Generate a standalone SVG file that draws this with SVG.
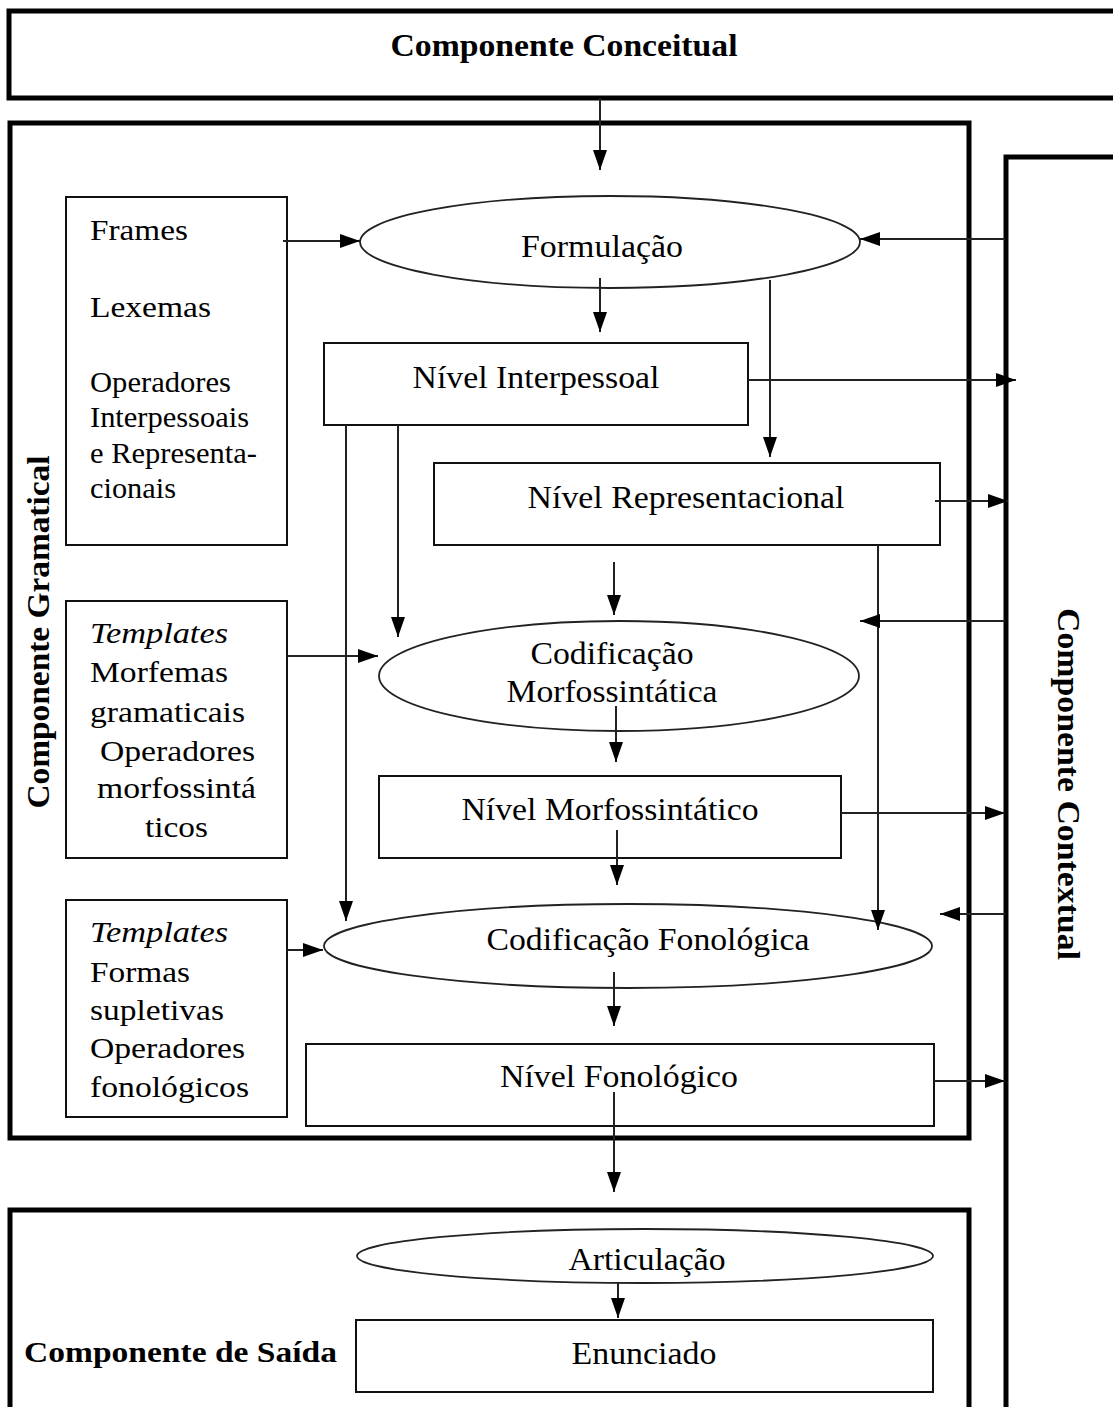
<svg xmlns="http://www.w3.org/2000/svg" width="1113" height="1407" viewBox="0 0 1113 1407" font-family="'Liberation Serif', 'Times New Roman', serif">
<style>
text{font-family:"Liberation Serif","Times New Roman",serif;fill:#000}
.t{font-size:32px;text-anchor:middle}
.l{font-size:30px}
.b{font-weight:bold}
.frame{fill:none;stroke:#000;stroke-width:5}
.box{fill:#fff;stroke:#111;stroke-width:2}
.ell{fill:#fff;stroke:#222;stroke-width:1.8}
.c line{stroke:#222;stroke-width:2}
</style>
<defs>
<marker id="ah" markerUnits="userSpaceOnUse" markerWidth="20" markerHeight="14" refX="20" refY="7" orient="auto">
<path d="M0,0 L20,7 L0,14 z" fill="#000"/>
</marker>
</defs>
<rect width="1113" height="1407" fill="#fff"/>

<g id="conceitual">
<rect class="frame" x="9" y="11" width="1200" height="87"/>
<text class="t b" x="564" y="56" font-size="30" textLength="347" lengthAdjust="spacingAndGlyphs">Componente Conceitual</text>
</g>

<g id="gramatical">
<rect class="frame" x="10" y="123" width="959" height="1015"/>
<text class="t b" transform="translate(49,632) rotate(-90)" font-size="30" textLength="353" lengthAdjust="spacingAndGlyphs">Componente Gramatical</text>
</g>

<g id="contextual">
<rect class="frame" x="1006" y="157" width="200" height="1400"/>
<text class="t b" transform="translate(1058,784) rotate(90)" font-size="30" textLength="352" lengthAdjust="spacingAndGlyphs">Componente Contextual</text>
</g>

<g id="saida">
<rect class="frame" x="10" y="1210" width="959" height="300"/>
<text class="l b" x="24" y="1362" font-size="30" textLength="313" lengthAdjust="spacingAndGlyphs">Componente de Saída</text>
</g>

<g id="lexico">
<rect class="box" x="66" y="197" width="221" height="348"/>
<text class="l" x="90" y="240" textLength="98" lengthAdjust="spacingAndGlyphs">Frames</text>
<text class="l" x="90" y="317" textLength="121" lengthAdjust="spacingAndGlyphs">Lexemas</text>
<text class="l" x="90" y="392" textLength="141" lengthAdjust="spacingAndGlyphs">Operadores</text>
<text class="l" x="90" y="427" textLength="159" lengthAdjust="spacingAndGlyphs">Interpessoais</text>
<text class="l" x="90" y="463" textLength="167" lengthAdjust="spacingAndGlyphs">e Representa-</text>
<text class="l" x="90" y="498" textLength="86" lengthAdjust="spacingAndGlyphs">cionais</text>
</g>

<g id="templates-morf">
<rect class="box" x="66" y="601" width="221" height="257"/>
<text class="l" x="90" y="643" font-style="italic" textLength="138" lengthAdjust="spacingAndGlyphs">Templates</text>
<text class="l" x="90" y="682" textLength="138" lengthAdjust="spacingAndGlyphs">Morfemas</text>
<text class="l" x="90" y="722" textLength="155" lengthAdjust="spacingAndGlyphs">gramaticais</text>
<text class="l" x="100" y="761" textLength="155" lengthAdjust="spacingAndGlyphs">Operadores</text>
<text class="l" x="97" y="798" textLength="159" lengthAdjust="spacingAndGlyphs">morfossintá</text>
<text class="l" x="145" y="837" textLength="63" lengthAdjust="spacingAndGlyphs">ticos</text>
</g>

<g id="templates-fon">
<rect class="box" x="66" y="900" width="221" height="217"/>
<text class="l" x="90" y="942" font-style="italic" textLength="138" lengthAdjust="spacingAndGlyphs">Templates</text>
<text class="l" x="90" y="982" textLength="100" lengthAdjust="spacingAndGlyphs">Formas</text>
<text class="l" x="90" y="1020" textLength="134" lengthAdjust="spacingAndGlyphs">supletivas</text>
<text class="l" x="90" y="1058" textLength="155" lengthAdjust="spacingAndGlyphs">Operadores</text>
<text class="l" x="90" y="1097" textLength="159" lengthAdjust="spacingAndGlyphs">fonológicos</text>
</g>

<g id="formulacao">
<ellipse class="ell" cx="610" cy="242" rx="250" ry="46"/>
<text class="t" x="602" y="257" textLength="162" lengthAdjust="spacingAndGlyphs">Formulação</text>
</g>

<g id="nivel-interpessoal">
<rect class="box" x="324" y="343" width="424" height="82"/>
<text class="t" x="536" y="388" textLength="247" lengthAdjust="spacingAndGlyphs">Nível Interpessoal</text>
</g>

<g id="nivel-representacional">
<rect class="box" x="434" y="463" width="506" height="82"/>
<text class="t" x="686" y="508" textLength="317" lengthAdjust="spacingAndGlyphs">Nível Representacional</text>
</g>

<g id="codificacao-morf">
<ellipse class="ell" cx="619" cy="676" rx="240" ry="55"/>
<text class="t" x="612" y="664" textLength="163" lengthAdjust="spacingAndGlyphs">Codificação</text>
<text class="t" x="612" y="702" textLength="211" lengthAdjust="spacingAndGlyphs">Morfossintática</text>
</g>

<g id="nivel-morfossintatico">
<rect class="box" x="379" y="776" width="462" height="82"/>
<text class="t" x="610" y="820" textLength="297" lengthAdjust="spacingAndGlyphs">Nível Morfossintático</text>
</g>

<g id="codificacao-fon">
<ellipse class="ell" cx="628" cy="946" rx="304" ry="42"/>
<text class="t" x="648" y="950" textLength="323" lengthAdjust="spacingAndGlyphs">Codificação Fonológica</text>
</g>

<g id="nivel-fonologico">
<rect class="box" x="306" y="1044" width="628" height="82"/>
<text class="t" x="619" y="1087" textLength="238" lengthAdjust="spacingAndGlyphs">Nível Fonológico</text>
</g>

<g id="articulacao">
<ellipse class="ell" cx="645" cy="1256" rx="288" ry="27"/>
<text class="t" x="647" y="1270" textLength="157" lengthAdjust="spacingAndGlyphs">Articulação</text>
</g>

<g id="enunciado">
<rect class="box" x="356" y="1320" width="577" height="72"/>
<text class="t" x="644" y="1364" textLength="145" lengthAdjust="spacingAndGlyphs">Enunciado</text>
</g>

<g id="connectors" class="c">
<line x1="600" y1="98" x2="600" y2="170" marker-end="url(#ah)"/>
<line x1="283" y1="241" x2="360" y2="241" marker-end="url(#ah)"/>
<line x1="1005" y1="239" x2="860" y2="239" marker-end="url(#ah)"/>
<line x1="600" y1="278" x2="600" y2="332" marker-end="url(#ah)"/>
<line x1="748" y1="380" x2="1016" y2="380" marker-end="url(#ah)"/>
<line x1="770" y1="280" x2="770" y2="457" marker-end="url(#ah)"/>
<line x1="935" y1="501" x2="1008" y2="501" marker-end="url(#ah)"/>
<line x1="878" y1="545" x2="878" y2="930" marker-end="url(#ah)"/>
<line x1="1005" y1="621" x2="860" y2="621" marker-end="url(#ah)"/>
<line x1="614" y1="562" x2="614" y2="615" marker-end="url(#ah)"/>
<line x1="346" y1="425" x2="346" y2="921" marker-end="url(#ah)"/>
<line x1="398" y1="425" x2="398" y2="637" marker-end="url(#ah)"/>
<line x1="287" y1="656" x2="378" y2="656" marker-end="url(#ah)"/>
<line x1="616" y1="706" x2="616" y2="762" marker-end="url(#ah)"/>
<line x1="841" y1="813" x2="1005" y2="813" marker-end="url(#ah)"/>
<line x1="617" y1="830" x2="617" y2="885" marker-end="url(#ah)"/>
<line x1="1005" y1="914" x2="940" y2="914" marker-end="url(#ah)"/>
<line x1="287" y1="950" x2="323" y2="950" marker-end="url(#ah)"/>
<line x1="614" y1="972" x2="614" y2="1026" marker-end="url(#ah)"/>
<line x1="934" y1="1081" x2="1005" y2="1081" marker-end="url(#ah)"/>
<line x1="614" y1="1092" x2="614" y2="1192" marker-end="url(#ah)"/>
<line x1="618" y1="1282" x2="618" y2="1318" marker-end="url(#ah)"/>
</g>
</svg>
